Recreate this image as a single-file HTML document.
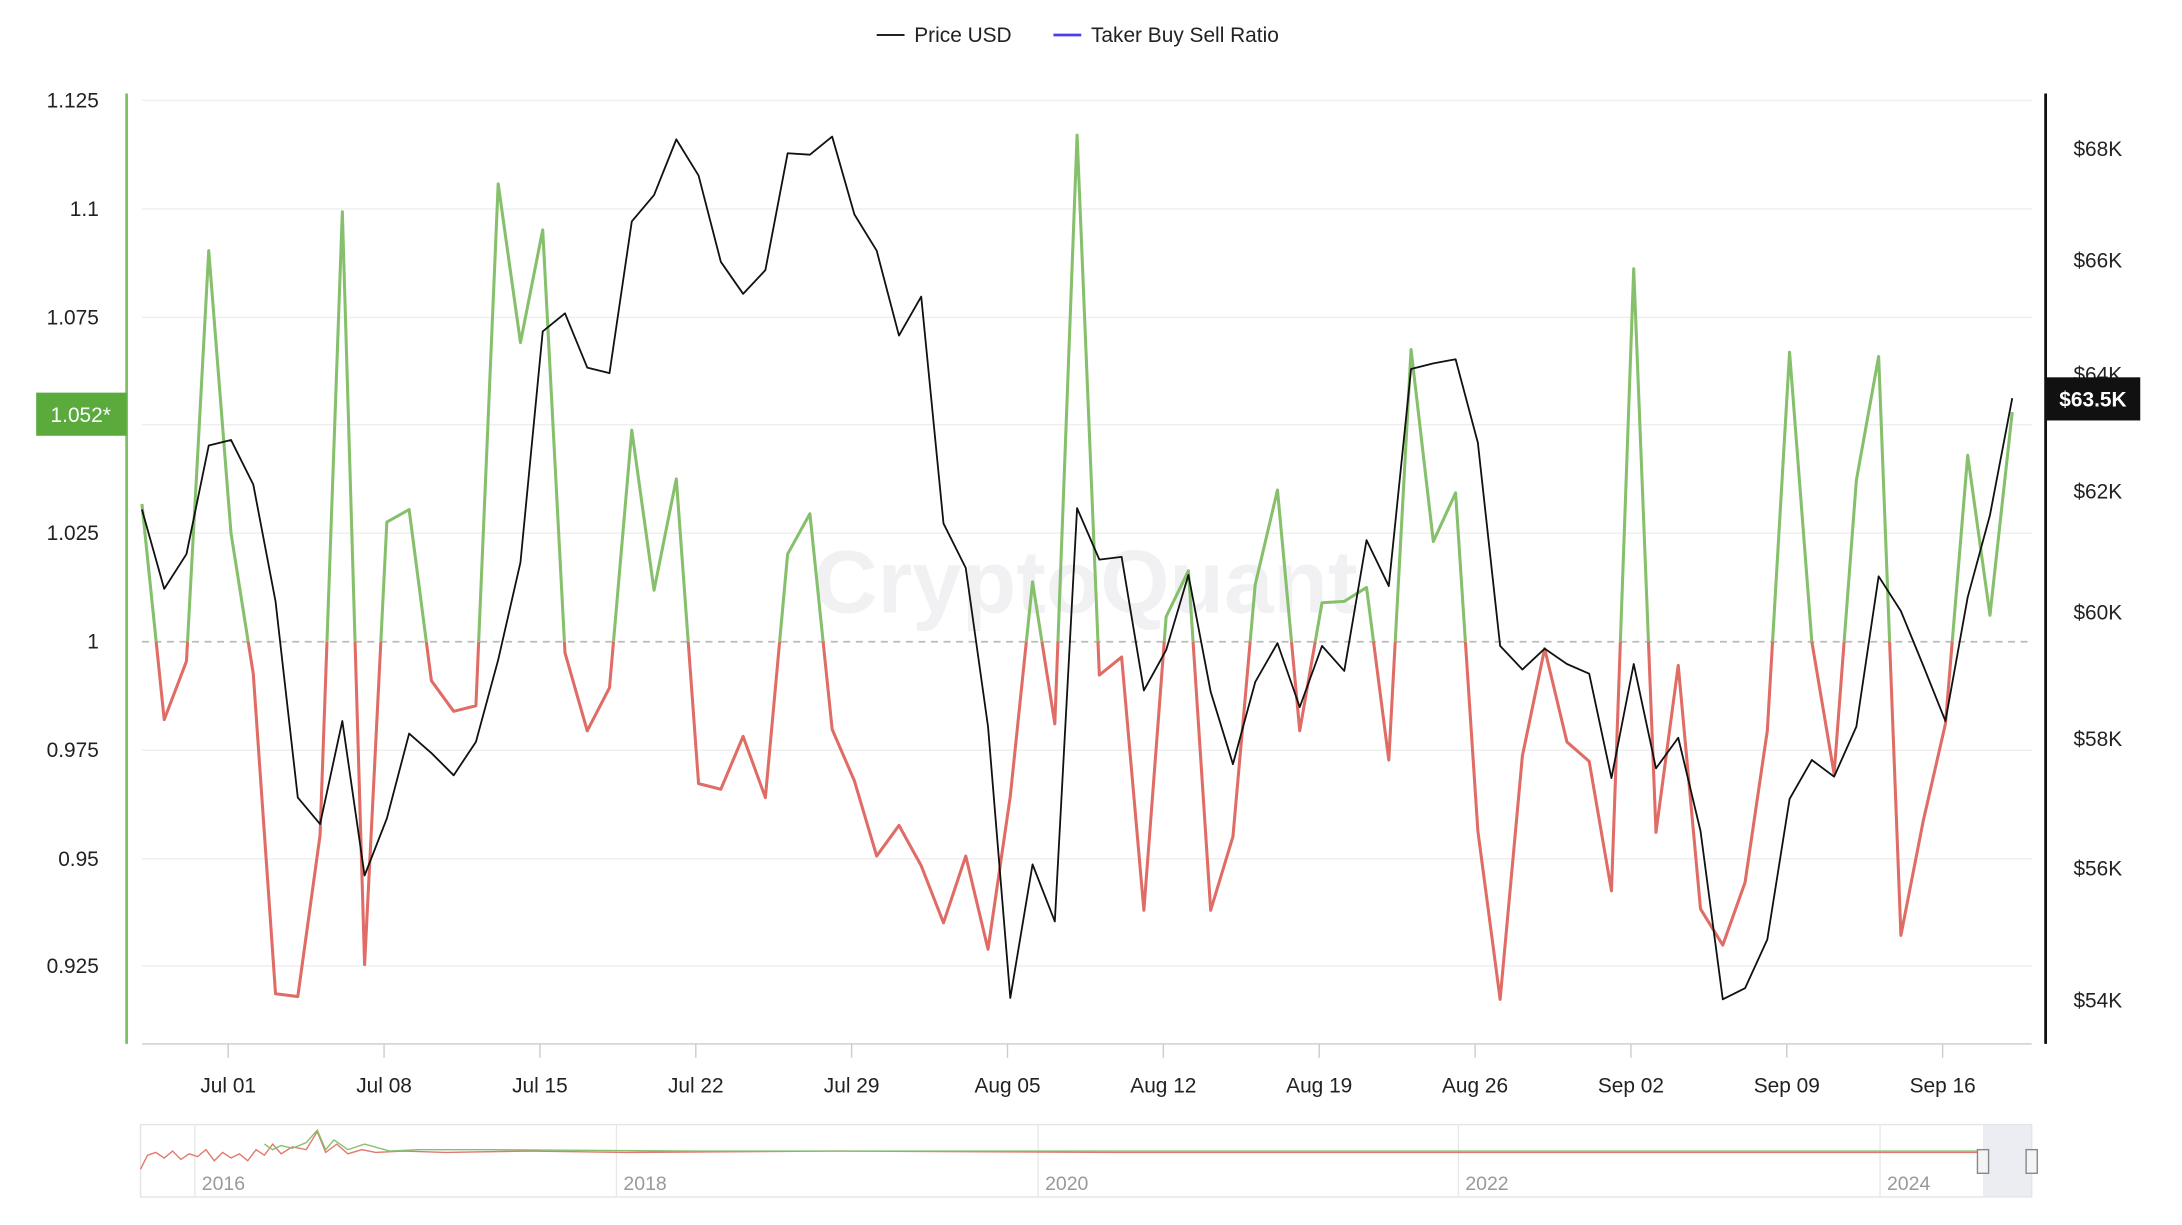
<!DOCTYPE html>
<html><head><meta charset="utf-8"><style>
html,body{margin:0;padding:0;background:#fff;}
svg{display:block;font-family:"Liberation Sans",sans-serif;}
</style></head><body>
<svg width="2182" height="1225" viewBox="0 0 1568 880" xmlns="http://www.w3.org/2000/svg">
<rect width="1568" height="880" fill="#fff"/>
<!-- legend -->
<line x1="630" y1="25" x2="650" y2="25" stroke="#222" stroke-width="1.5"/>
<text x="657" y="30" font-size="15" fill="#222">Price USD</text>
<line x1="757" y1="25" x2="777" y2="25" stroke="#4a3ff0" stroke-width="2"/>
<text x="784" y="30" font-size="15" fill="#222">Taker Buy Sell Ratio</text>
<!-- grid -->
<g stroke="#eeeeee" stroke-width="1">
<line x1="102" y1="72" x2="1460" y2="72"/><line x1="102" y1="150" x2="1460" y2="150"/>
<line x1="102" y1="228" x2="1460" y2="228"/><line x1="102" y1="305" x2="1460" y2="305"/>
<line x1="102" y1="383" x2="1460" y2="383"/><line x1="102" y1="539" x2="1460" y2="539"/>
<line x1="102" y1="617" x2="1460" y2="617"/><line x1="102" y1="694" x2="1460" y2="694"/>
</g>
<line x1="102" y1="461" x2="1460" y2="461" stroke="#bbb" stroke-width="1.3" stroke-dasharray="5,4"/>
<text x="780" y="440" font-size="64" fill="#f1f1f4" text-anchor="middle" font-weight="bold">CryptoQuant</text>
<!-- axes -->
<line x1="91" y1="67" x2="91" y2="750" stroke="#7cc063" stroke-width="2"/>
<line x1="1470" y1="67" x2="1470" y2="750" stroke="#111" stroke-width="2"/>
<line x1="102" y1="750" x2="1460" y2="750" stroke="#ccc" stroke-width="1"/>
<g font-size="15" fill="#222" text-anchor="end">
<text x="71" y="77">1.125</text><text x="71" y="155">1.1</text><text x="71" y="233">1.075</text>
<text x="71" y="388">1.025</text><text x="71" y="466">1</text><text x="71" y="544">0.975</text>
<text x="71" y="622">0.95</text><text x="71" y="699">0.925</text>
</g>
<g font-size="15" fill="#222">
<text x="1490" y="112">$68K</text><text x="1490" y="192">$66K</text><text x="1490" y="274">$64K</text>
<text x="1490" y="358">$62K</text><text x="1490" y="445">$60K</text><text x="1490" y="536">$58K</text>
<text x="1490" y="629">$56K</text><text x="1490" y="724">$54K</text>
</g>
<g stroke="#ccc"><line x1="164" y1="750" x2="164" y2="760"/><line x1="276" y1="750" x2="276" y2="760"/><line x1="388" y1="750" x2="388" y2="760"/><line x1="500" y1="750" x2="500" y2="760"/><line x1="612" y1="750" x2="612" y2="760"/><line x1="724" y1="750" x2="724" y2="760"/><line x1="836" y1="750" x2="836" y2="760"/><line x1="948" y1="750" x2="948" y2="760"/><line x1="1060" y1="750" x2="1060" y2="760"/><line x1="1172" y1="750" x2="1172" y2="760"/><line x1="1284" y1="750" x2="1284" y2="760"/><line x1="1396" y1="750" x2="1396" y2="760"/></g>
<g font-size="15" fill="#222" text-anchor="middle">
<text x="164" y="785">Jul 01</text><text x="276" y="785">Jul 08</text><text x="388" y="785">Jul 15</text>
<text x="500" y="785">Jul 22</text><text x="612" y="785">Jul 29</text><text x="724" y="785">Aug 05</text>
<text x="836" y="785">Aug 12</text><text x="948" y="785">Aug 19</text><text x="1060" y="785">Aug 26</text>
<text x="1172" y="785">Sep 02</text><text x="1284" y="785">Sep 09</text><text x="1396" y="785">Sep 16</text>
</g>
<defs>
<clipPath id="up"><rect x="0" y="0" width="1568" height="461"/></clipPath>
<clipPath id="dn"><rect x="0" y="461" width="1568" height="420"/></clipPath>
</defs>
<g id="ratio" fill="none" stroke-width="2.2" stroke-linejoin="round">
<polyline clip-path="url(#up)" stroke="#86c06c" points="102,362 118,517 134,475 150,180 166,383 182,484 198,714 214,716 230,600 246,152 262,693 278,375 294,366 310,489 326,511 342,507 358,132 374,246 390,165 406,469 422,525 438,494 454,309 470,424 486,344 502,563 518,567 534,529 550,573 566,398 582,369 598,524 614,561 630,615 646,593 662,622 678,663 694,615 710,682 726,572 742,418 758,520 774,97 790,485 806,472 822,654 838,443 854,410 870,654 886,601 902,420 918,352 934,525 950,433 966,432 982,422 998,546 1014,251 1030,389 1046,354 1062,597 1078,718 1094,543 1110,466 1126,533 1142,547 1158,640 1174,193 1190,598 1206,478 1222,653 1238,679 1254,634 1270,525 1286,253 1302,461 1318,556 1334,345 1350,256 1366,672 1382,590 1398,520 1414,327 1430,442 1446,296"/>
<polyline clip-path="url(#dn)" stroke="#e06c66" points="102,362 118,517 134,475 150,180 166,383 182,484 198,714 214,716 230,600 246,152 262,693 278,375 294,366 310,489 326,511 342,507 358,132 374,246 390,165 406,469 422,525 438,494 454,309 470,424 486,344 502,563 518,567 534,529 550,573 566,398 582,369 598,524 614,561 630,615 646,593 662,622 678,663 694,615 710,682 726,572 742,418 758,520 774,97 790,485 806,472 822,654 838,443 854,410 870,654 886,601 902,420 918,352 934,525 950,433 966,432 982,422 998,546 1014,251 1030,389 1046,354 1062,597 1078,718 1094,543 1110,466 1126,533 1142,547 1158,640 1174,193 1190,598 1206,478 1222,653 1238,679 1254,634 1270,525 1286,253 1302,461 1318,556 1334,345 1350,256 1366,672 1382,590 1398,520 1414,327 1430,442 1446,296"/>
</g>
<polyline fill="none" stroke="#111" stroke-width="1.3" stroke-linejoin="round" points="102,366 118,423 134,398 150,320 166,316 182,348 198,432 214,573 230,592 246,518 262,629 278,588 294,527 310,541 326,557 342,533 358,474 374,404 390,238 406,225 422,264 438,268 454,159 470,140 486,100 502,126 518,188 534,211 550,194 566,110 582,111 598,98 614,154 630,180 646,241 662,213 678,376 694,408 710,522 726,717 742,621 758,662 774,365 790,402 806,400 822,496 838,467 854,413 870,497 886,549 902,490 918,462 934,508 950,464 966,482 982,388 998,421 1014,265 1030,261 1046,258 1062,318 1078,464 1094,481 1110,466 1126,477 1142,484 1158,559 1174,477 1190,552 1206,530 1222,597 1238,718 1254,710 1270,675 1286,574 1302,546 1318,558 1334,522 1350,414 1366,439 1382,478 1398,518 1414,429 1430,370 1446,286"/>
<!-- tags -->
<rect x="26" y="282" width="65" height="31" fill="#5aab3c"/>
<text x="58" y="303" font-size="15" fill="#fff" text-anchor="middle">1.052*</text>
<rect x="1470" y="271" width="68" height="31" fill="#111"/>
<text x="1504" y="292" font-size="15" fill="#fff" text-anchor="middle" font-weight="bold">$63.5K</text>
<!-- navigator -->
<rect x="101" y="808" width="1359" height="52" fill="#fff" stroke="#e4e4e4"/>
<g stroke="#e8e8e8"><line x1="140" y1="808" x2="140" y2="860"/><line x1="443" y1="808" x2="443" y2="860"/><line x1="746" y1="808" x2="746" y2="860"/><line x1="1048" y1="808" x2="1048" y2="860"/><line x1="1351" y1="808" x2="1351" y2="860"/></g>
<g font-size="14" fill="#999"><text x="145" y="855">2016</text><text x="448" y="855">2018</text><text x="751" y="855">2020</text><text x="1053" y="855">2022</text><text x="1356" y="855">2024</text></g>
<polyline fill="none" stroke="#e07a70" stroke-width="1" points="101,840 106,830 112,828 118,832 124,827 130,833 136,829 142,831 148,826 154,834 160,828 166,832 172,829 178,834 184,826 190,830 196,822 202,829 210,824 220,826 228,813 234,828 242,822 250,829 260,826 270,828 290,827 320,828 380,827 450,828 600,827 800,828 1000,828 1200,828 1425,828"/>
<polyline fill="none" stroke="#86c06c" stroke-width="1" points="190,822 196,826 202,823 210,825 220,821 228,812 234,826 240,819 250,826 262,822 280,827 300,826 350,826 500,827 700,827 900,827 1100,827 1300,827 1425,827"/>
<rect x="1425" y="808" width="35" height="52" fill="#e4e4ee" opacity="0.7"/>
<rect x="1421" y="826" width="8" height="17" fill="#f4f4f4" stroke="#888"/>
<rect x="1456" y="826" width="8" height="17" fill="#f4f4f4" stroke="#888"/>
</svg>
</body></html>
